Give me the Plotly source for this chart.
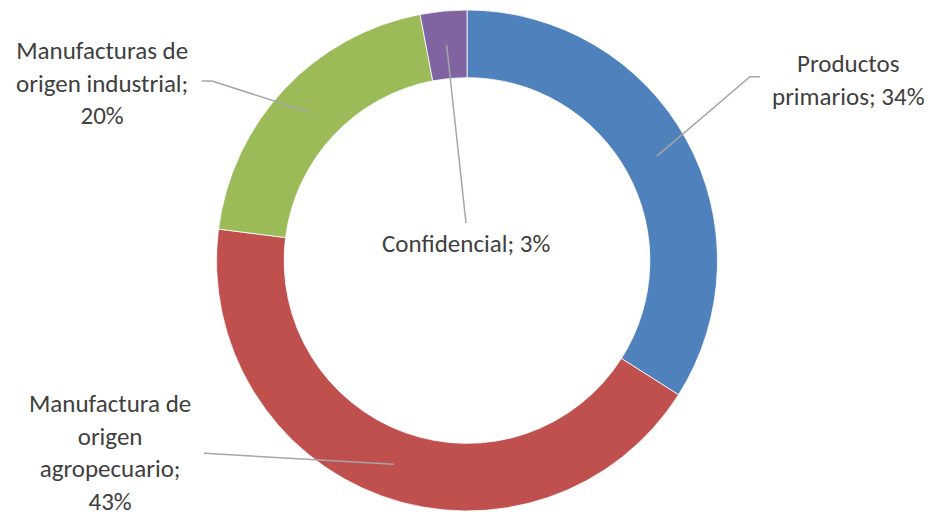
import math
import plotly.graph_objects as go

# Export composition by category (share of total, %)
categories = [
    "Productos primarios",
    "Manufactura de origen agropecuario",
    "Manufacturas de origen industrial",
    "Confidencial",
]
shares = [34, 43, 20, 3]
colors = ["#4F81BD", "#C0504D", "#9BBB59", "#8064A2"]

W, H = 932, 516
FONT = "Calibri, Carlito, Lato, sans-serif"
TEXT_COLOR = "#404040"
LINE_COLOR = "#A6A6A6"

# donut geometry in pixels
cx, cy, R = 467.0, 260.5, 250.5
HOLE = 0.73
r_mid = R * (1 + HOLE) / 2


def to_paper(x, y):
    return x / W, 1 - y / H


def slice_anchor(i):
    total = sum(shares)
    start = sum(shares[:i]) / total
    mid = (start + shares[i] / total / 2) * 2 * math.pi
    return cx + r_mid * math.sin(mid), cy - r_mid * math.cos(mid)


x0, y1 = to_paper(cx - R, cy - R)
x1, y0 = to_paper(cx + R, cy + R)

fig = go.Figure(
    go.Pie(
        labels=categories,
        values=shares,
        hole=HOLE,
        sort=False,
        direction="clockwise",
        rotation=0,
        marker=dict(colors=colors, line=dict(color="white", width=0.8)),
        textinfo="none",
        hoverinfo="label+percent",
        domain=dict(x=[x0, x1], y=[y0, y1]),
        showlegend=False,
    )
)

# label text, position (px) and leader-line elbow (px) per slice
label_text = [
    "Productos<br>primarios; 34%",
    "Manufactura de<br>origen<br>agropecuario;<br>43%",
    "Manufacturas de<br>origen industrial;<br>20%",
    "Confidencial; 3%",
]
label_pos = [(848, 80), (110, 452), (102, 83), (466, 244)]
elbows = [
    [(760, 76.7), (750, 76.7)],
    [(204, 453.3)],
    [(201.7, 81), (212, 81)],
    [(466, 223)],
]

annotations = []
shapes = []
for i, txt in enumerate(label_text):
    lx, ly = label_pos[i]
    px, py = to_paper(lx, ly)
    annotations.append(
        dict(
            x=px, y=py, xref="paper", yref="paper",
            text=txt, showarrow=False,
            xanchor="center", yanchor="middle", align="center",
            font=dict(family=FONT, size=25, color=TEXT_COLOR),
        )
    )
    pts = elbows[i] + [slice_anchor(i)]
    path = ""
    for k, (x, y) in enumerate(pts):
        qx, qy = to_paper(x, y)
        path += ("M" if k == 0 else "L") + f"{qx},{qy} "
    shapes.append(
        dict(type="path", path=path.strip(), xref="paper", yref="paper",
             line=dict(color=LINE_COLOR, width=1.5))
    )

fig.update_layout(
    width=W, height=H,
    margin=dict(l=0, r=0, t=0, b=0),
    paper_bgcolor="white", plot_bgcolor="white",
    annotations=annotations, shapes=shapes,
)

fig.write_html("out.html")
